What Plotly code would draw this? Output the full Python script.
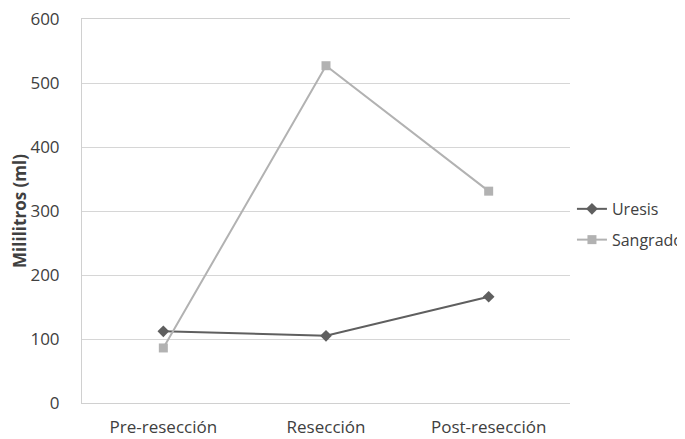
import plotly.graph_objects as go

categories = ["Pre-resección", "Resección", "Post-resección"]
uresis = [112, 105, 166]
sangrado = [86, 527, 331]
y_ticks = [0, 100, 200, 300, 400, 500, 600]

fig = go.Figure()
fig.add_trace(go.Scatter(x=categories, y=uresis, name="Uresis", mode="lines+markers",
                         legendgroup="a",
                         line=dict(color="#5f5f5f", width=2),
                         marker=dict(symbol="diamond", size=9, color="#5f5f5f")))
fig.add_trace(go.Scatter(x=categories, y=sangrado, name="Sangrado", mode="lines+markers",
                         legendgroup="b",
                         line=dict(color="#b2b2b2", width=2),
                         marker=dict(symbol="square", size=9, color="#b2b2b2")))

font = "Open Sans"
# page body has an 8px default margin, so figure is slightly smaller than the window
fig.update_layout(
    width=677, height=431,
    margin=dict(l=74, r=115, t=11, b=36, autoexpand=False),
    paper_bgcolor="white", plot_bgcolor="white",
    font=dict(family=font, size=17, color="#404040"),
    legend=dict(x=1.004, y=0.465, yanchor="middle", xanchor="left",
                font=dict(size=16, color="#404040"), tracegroupgap=7, itemwidth=30),
    xaxis=dict(type="category", showgrid=False, showline=True, linecolor="#d0d0d0",
               mirror=True, linewidth=1, ticks="", tickfont=dict(size=17),
               range=[-0.5, 2.5], ticklabelstandoff=9, ticklabeloverflow="allow"),
    yaxis=dict(range=[0, 600], tickvals=y_ticks, showgrid=True, gridcolor="#d6d6d6",
               showline=True, linecolor="#d0d0d0", zeroline=False, ticks="",
               tickfont=dict(size=17), ticklabelstandoff=18, ticklabeloverflow="allow",
               title=dict(text="<b>Mililitros (ml)</b>", font=dict(size=17), standoff=4)),
)
fig.write_html("out.html")
